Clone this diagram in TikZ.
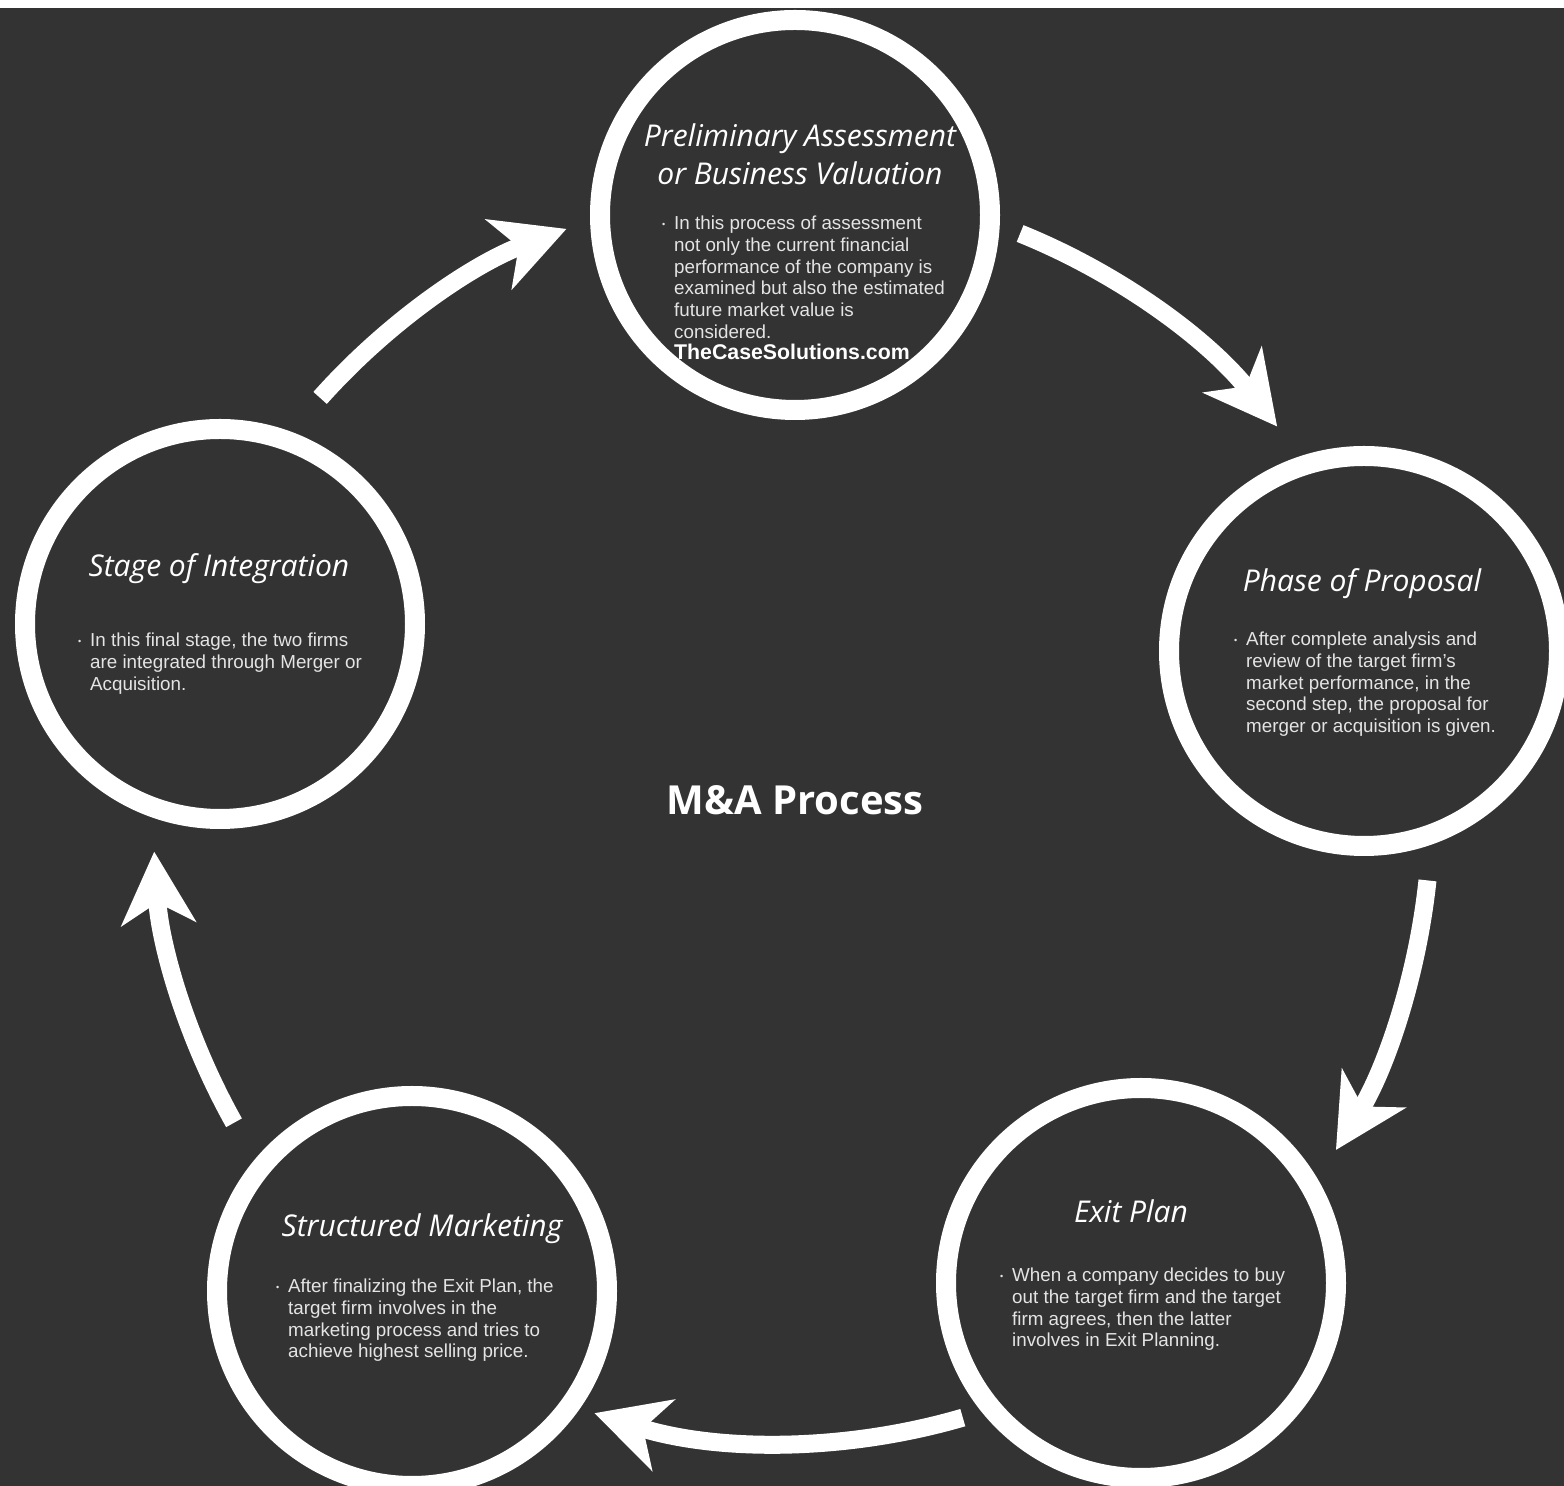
\documentclass[tikz,border=0pt]{standalone}
\usepackage{fontspec}
\setmainfont{Liberation Sans}
\newfontfamily\headfont{Open Sans}
\usetikzlibrary{arrows.meta,positioning}
\definecolor{board}{HTML}{333333}
\definecolor{haze}{HTML}{E4E4E4}
\newcommand{\bul}{\makebox[12pt][l]{\fontsize{9}{9}\selectfont\raisebox{2pt}{•}}}
\newcommand{\pushin}{\hspace*{12pt}}

\begin{document}
\begin{tikzpicture}[x=1pt,y=1pt,
ring/.style={circle,draw=white,line width=20pt,fill=board,minimum size=390pt,inner sep=0},
head/.style={font=\headfont\itshape\fontsize{30}{38}\selectfont,text=white,inner sep=0,align=center},
blurb/.style={font=\fontsize{18.8}{21.7}\selectfont,text=haze,align=left,inner sep=0,anchor=north west},
flow/.style={draw=white,line width=18pt,-{Stealth[length=72pt,width=74pt,inset=21pt]}},
]
\useasboundingbox (0,0) rectangle (1564,1486);
\clip (0,0) rectangle (1564,1486);
\fill[white] (0,0) rectangle (1564,1486);
\fill[board] (0,0) rectangle (1564,1478);

% the five stages
\node[ring] (pa) at (795,1271) {};
\node[ring] (pp) at (1364,835) {};
\node[ring] (ep) at (1141,203) {};
\node[ring] (sm) at (412,195) {};
\node[ring] (si) at (220,862) {};

% arrows round the cycle
\coordinate (mid) at (786,673);
\coordinate (a1) at ([shift={(68:625pt)}]mid);
\coordinate (a2) at ([shift={(-6:645pt)}]mid);
\coordinate (a3) at ([shift={(-73.7:630pt)}]mid);
\coordinate (a4) at ([shift={(-150.7:633pt)}]mid);
\coordinate (a5) at ([shift={(138.3:624pt)}]mid);
\draw[flow] (a1) arc[start angle=68,end angle=38.2,radius=625pt];
\draw[flow] (a2) arc[start angle=-6,end angle=-31.5,radius=645pt];
\draw[flow] (a3) arc[start angle=-73.7,end angle=-107.7,radius=630pt];
\draw[flow] (a4) arc[start angle=-150.7,end angle=-176.5,radius=633pt];
\draw[flow] (a5) arc[start angle=138.3,end angle=110.6,radius=624pt];

% titles
\node[head,anchor=north] (pa-head) at (800,1362) {Preliminary Assessment\\or Business Valuation};
\node[head,anchor=base] (pp-head) at (1362,894) {Phase of Proposal};
\node[head,anchor=base] (ep-head) at (1131,263) {Exit Plan};
\node[head,anchor=base] (sm-head) at (422,249) {Structured Marketing};
\node[head,anchor=base] (si-head) at (219,909) {Stage of Integration};

% bullet texts
\node[blurb] (pa-text) at (662,1270) {\bul In this process of assessment\\
\pushin not only the current financial\\
\pushin performance of the company is\\
\pushin examined but also the estimated\\
\pushin future market value is\\
\pushin considered.};
\node[blurb,below=5pt of pa-text.south west,anchor=north west,xshift=12pt,
      font=\bfseries\fontsize{21.3}{24}\selectfont,text=white] (pa-mark) {TheCaseSolutions.com};
\node[blurb] (pp-text) at (1234,854) {\bul After complete analysis and\\
\pushin review of the target firm's\\
\pushin market performance, in the\\
\pushin second step, the proposal for\\
\pushin merger or acquisition is given.};
\node[blurb] (ep-text) at (1000,218) {\bul When a company decides to buy\\
\pushin out the target firm and the target\\
\pushin firm agrees, then the latter\\
\pushin involves in Exit Planning.};
\node[blurb] (sm-text) at (276,207) {\bul After finalizing the Exit Plan, the\\
\pushin target firm involves in the\\
\pushin marketing process and tries to\\
\pushin achieve highest selling price.};
\node[blurb] (si-text) at (78,853) {\bul In this final stage, the two firms\\
\pushin are integrated through Merger or\\
\pushin Acquisition.};

% centre label
\node[font=\headfont\bfseries\fontsize{40}{48}\selectfont,text=white] (hub) at (795,686) {M\&A Process};
\end{tikzpicture}
\end{document}
